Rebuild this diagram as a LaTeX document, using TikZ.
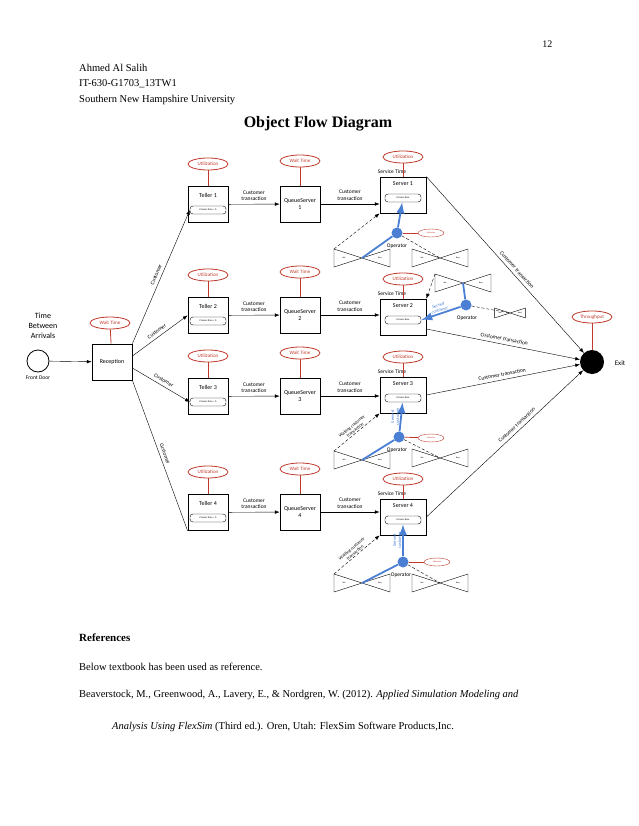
\documentclass[tikz,border=0pt]{standalone}
\usepackage{fontspec}
\setmainfont{Liberation Serif}
\newfontfamily\dia{Carlito}
\usetikzlibrary{arrows.meta,shapes.geometric}
\definecolor{opblue}{HTML}{4A7FD4}
\definecolor{utred}{HTML}{C0392B}
\begin{document}
\begin{tikzpicture}[x=1pt,y=-1pt,
  every node/.style={font=\dia\fontsize{6}{7}\selectfont},
  box/.style={draw, thick, minimum width=40pt, minimum height=36pt, inner sep=1pt},
  stat/.style={draw=utred, thick, ellipse, text=utred, minimum width=40pt, minimum height=12pt, inner sep=0pt, font=\dia\fontsize{5}{6}\selectfont},
  small stat/.style={draw=utred, ellipse, text=utred, minimum width=26pt, minimum height=8pt, inner sep=0pt, font=\dia\fontsize{2}{2}\selectfont},
  ptime/.style={draw, rounded corners=3pt, minimum width=36pt, minimum height=8pt, inner sep=0pt, font=\dia\fontsize{2.5}{3}\selectfont},
  link/.style={draw=utred, thick},
  arr/.style={-Latex},
  dasharr/.style={densely dashed, -Latex},
  op/.style={circle, fill=opblue, minimum size=11pt, inner sep=0pt},
  opline/.style={opblue, line width=1.8pt},
  lab/.style={font=\dia\fontsize{5.5}{6.5}\selectfont, align=center},
  slab/.style={font=\dia\fontsize{4.5}{5}\selectfont, align=center, inner sep=1pt},
  tiny/.style={font=\dia\fontsize{2}{2}\selectfont, inner sep=0pt}
]
\useasboundingbox (0,0) rectangle (638,826);
% page header
\node[font=\rmfamily\fontsize{10}{12}\selectfont, anchor=east] (pg) at (556,44) {12};
\node[font=\rmfamily\fontsize{10.5}{15.5}\selectfont, anchor=north west, align=left, inner sep=0pt] (hd) at (79,64) {Ahmed Al Salih\\IT-630-G1703\_13TW1\\Southern New Hampshire University};
\node[font=\rmfamily\bfseries\fontsize{16}{18}\selectfont] (title) at (318,124) {Object Flow Diagram};

% bow tie pic
\tikzset{bowtie/.pic={
  \draw (-28,-9) -- (28,9) -- (28,-9) -- (-28,9) -- cycle;
  \node[tiny] at (-18,0) {Idle};
  \node[tiny] at (18,0) {Busy};
  \coordinate (-c) at (0,0);
  \coordinate (-ul) at (-28,-9);
}}

% entry
\node[draw, thick, circle, minimum size=22pt] (door) at (38,361) {};
\node[font=\dia\fontsize{5.5}{6.5}\selectfont] (doorl) at (38,378) {Front Door};
\node[font=\dia\fontsize{8}{10}\selectfont, align=center] (tba) at (43,326) {Time\\Between\\Arrivals};
\node[box] (rec) at (112,362) {Reception};
\node[stat] (recw) at (110,323) {Wait Time};
\draw[link] (recw) -- (rec);
\draw[arr] (door) -- (rec);

% tellers, queues, servers
\foreach \i/\y/\sy in {1/204/195, 2/315/317, 3/396/395, 4/512/517}{
  \node[box, anchor=north, minimum height=36pt] (t\i) at (208,\y-18) {};
  \node[anchor=north] (tl\i) at (208,\y-14) {Teller \i};
  \node[ptime] (tp\i) at (208,\y+6) {Process time = 0};
  \node[box] (q\i) at (300,\y) {};
  \node[align=center] (ql\i) at (300,\y) {QueueServer\\\i};
  \node[box, minimum width=46pt, minimum height=36pt] (s\i) at (403,\sy) {};
  \node (sl\i) at (403,\sy-11) {Server \i};
  \node[ptime] (sp\i) at (403,\sy+3) {Process time};
  \node[lab] (st\i) at (392,\sy-23) {Service Time};
  \node[stat] (tu\i) at (208,\y-40) {Utilization};
  \node[stat] (qw\i) at (300,\y-43) {Wait Time};
  \node[stat] (su\i) at (403,\sy-38) {Utilization};
  \draw[link] (tu\i) -- (t\i);
  \draw[link] (qw\i) -- (q\i);
  \draw[link] (su\i) -- (s\i);
  \draw[arr] (t\i) -- node[lab, above] {Customer\\transaction} (q\i);
  \draw[arr] (q\i.east) -- node[lab, above] {Customer\\transaction} (s\i.west |- q\i.east);
}

% reception to tellers
\draw[arr] (rec.north east) -- node[lab, above, sloped] {Customer} (tp1.west);
\draw[arr] (rec.east) ++(0,-6) coordinate (r2) (r2) -- node[lab, above, sloped] {Customer} (t2.west);
\draw[arr] (rec.east) ++(0,6) coordinate (r3) (r3) -- node[lab, above, sloped] {Customer} (tp3.west);
\draw (rec.south east) -- node[lab, above, sloped] {Customer} (t4.south west);

% exit
\node[circle, fill=black, minimum size=24pt] (exit) at (592,362) {};
\node[font=\dia\fontsize{7}{8}\selectfont] (exitl) at (620,363) {Exit};
\node[stat] (thr) at (592,317) {Throughput};
\draw[link] (thr) -- (exit);
\draw[arr] (s1.north east) -- node[lab, above, sloped, pos=0.55] {Customer transaction} (exit);
\draw[arr] (s2.east) ++(0,12) coordinate (e2) (e2) -- node[lab, above, sloped] {Customer transaction} (exit);
\draw[arr] (s3.east) -- node[lab, above, sloped] {Customer transaction} (exit);
\draw[arr] (s4.east) -- node[lab, above, sloped, pos=0.6] {Customer transaction} (exit);

% server 1 operator
\pic (b1l) at (362,258) {bowtie};
\pic (b1r) at (440,258) {bowtie};
\node[op] (o1) at (397,233) {};
\node[lab] (o1l) at (397,246) {Operator};
\node[small stat] (o1u) at (431,233) {Utilization};
\draw[link] (o1) -- (o1u);
\draw[opline, -Latex] (o1) -- (sp1);
\draw[opline] (o1) -- (b1l-c);
\draw[dasharr] (b1l-ul) -- (s1.south west);
\draw[densely dashed] (o1) -- (b1r-c);

% server 2 operator
\pic (b2u) at (463,283) {bowtie};
\pic[scale=0.55] (b2r) at (510,313) {bowtie};
\node[op] (o2) at (466,305) {};
\node[lab] (o2l) at (467,318) {Operator};
\draw[opline] (o2) -- (b2u-c);
\draw[opline, -Latex] (o2) -- node[slab, above, sloped] {Served\\customer} (sp2.east);
\draw[dasharr] (b2u-ul) -- (s2.north east);
\draw[densely dashed] (o2) -- (b2r-c);

% server 3 operator
\pic (b3l) at (362,460) {bowtie};
\pic (b3r) at (440,458) {bowtie};
\node[op] (o3) at (399,437) {};
\node[lab] (o3l) at (397,450) {Operator};
\node[small stat] (o3u) at (431,438) {Utilization};
\draw[link] (o3) -- (o3u);
\draw[opline, -Latex] (o3) -- node[slab, left, rotate=90, anchor=south] {Served\\customer} (sp3);
\draw[opline] (o3) -- (b3l-c);
\draw[dasharr] (b3l-ul) -- node[slab, above, sloped] {Waiting customer\\transaction} (s3.south west);
\draw[densely dashed] (o3) -- (b3r-c);

% server 4 operator
\pic (b4l) at (362,583) {bowtie};
\pic (b4r) at (440,583) {bowtie};
\node[op] (o4) at (403,562) {};
\node[lab] (o4l) at (401,575) {Operator};
\node[small stat] (o4u) at (437,562) {Utilization};
\draw[link] (o4) -- (o4u);
\draw[opline, -Latex] (o4) -- node[slab, rotate=90, anchor=south] {Served\\customer} (sp4);
\draw[opline] (o4) -- (b4l-c);
\draw[dasharr] (b4l-ul) -- node[slab, above, sloped] {Waiting customer\\transaction} (s4.south west);
\draw[densely dashed] (o4) -- (b4r-c);

% references
\node[font=\rmfamily\bfseries\fontsize{11}{13}\selectfont, anchor=west, inner sep=0pt] (refh) at (79,638) {References};
\node[font=\rmfamily\fontsize{10.5}{13}\selectfont, anchor=west, inner sep=0pt] (ref1) at (79,667) {Below textbook has been used as reference.};
\node[font=\rmfamily\fontsize{10.5}{13}\selectfont, anchor=west, inner sep=0pt] (ref2) at (79,695) {Beaverstock, M., Greenwood, A., Lavery, E., \& Nordgren, W. (2012). \textit{Applied Simulation Modeling and}};
\node[font=\rmfamily\fontsize{10.5}{13}\selectfont, anchor=west, inner sep=0pt] (ref3) at (112,727) {\textit{Analysis Using FlexSim} (Third ed.). Oren, Utah: FlexSim Software Products,Inc.};
\end{tikzpicture}
\end{document}
